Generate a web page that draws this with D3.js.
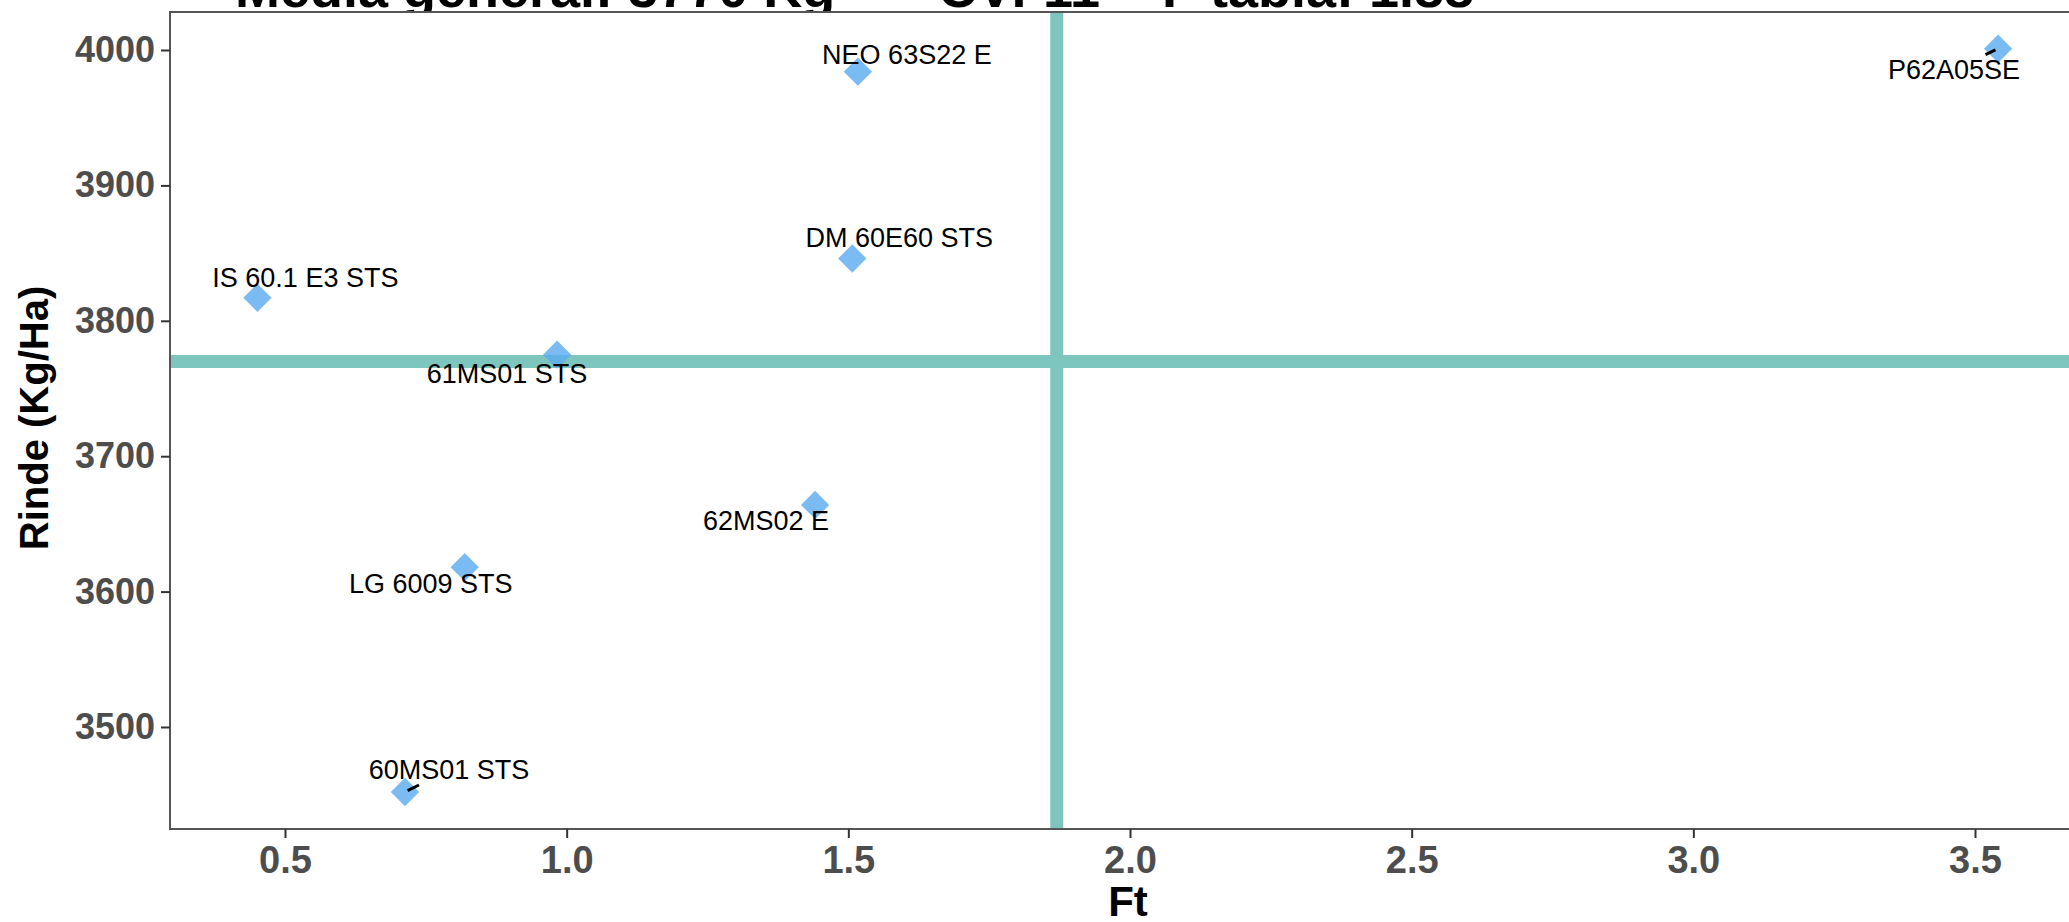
<!DOCTYPE html>
<html>
<head>
<meta charset="utf-8">
<script src="https://cdn.jsdelivr.net/npm/d3@7"></script>
<style>
  html, body { margin: 0; padding: 0; background: #ffffff; }
  svg { display: block; }
</style>
</head>
<body>
<svg id="chart" width="2069" height="922"></svg>
<script>
// ---- data ----
const categories = ["P62A05SE", "NEO 63S22 E", "DM 60E60 STS", "IS 60.1 E3 STS", "61MS01 STS", "62MS02 E", "LG 6009 STS", "60MS01 STS"];
const ftValues    = [3.541, 1.517, 1.507, 0.451, 0.983, 1.441, 0.819, 0.713];
const rindeValues = [4001, 3984, 3846, 3817, 3775, 3664, 3618, 3452];
const mediaGeneral = 3770;
const fTabla = 1.87;
const xTicks = [0.5, 1.0, 1.5, 2.0, 2.5, 3.0, 3.5];
const yTicks = [3500, 3600, 3700, 3800, 3900, 4000];
const titleParts = ["Media general: 3770 Kg", "-", "CV: 11", "-", "F tabla: 1.88"];

// ---- label layout (repel-style nudges, pixels) ----
const labelDx = [-44, 49, 47, 48, -50, -49, -34, 44];
const labelDy = [30, -8, -12, -11, 28, 25, 26, -13];
const labelSegment = [true, false, false, false, false, false, false, true];

// ---- layout ----
const W = 2069, H = 922;
const panel = { left: 170, top: 12, right: 2075, bottom: 829 };

const svg = d3.select("#chart");

const x = d3.scaleLinear().domain([0.5, 3.5]).range([285, 1975]);
const y = d3.scaleLinear().domain([3500, 4000]).range([727, 50]);

// title (mostly clipped at top, as in the reference)
const titleX = [235, 900, 938, 1122, 1162];
const title = svg.append("text")
  .attr("y", 7)
  .style("font-family", "'Liberation Sans', Arial, sans-serif")
  .style("font-weight", "bold")
  .style("font-size", "54px")
  .attr("fill", "#000");
titleParts.forEach((t, i) => {
  title.append("tspan").attr("x", titleX[i]).text(t);
});

// panel background
svg.append("rect")
  .attr("x", panel.left).attr("y", panel.top)
  .attr("width", panel.right - panel.left).attr("height", panel.bottom - panel.top)
  .attr("fill", "#ffffff");

svg.append("clipPath").attr("id", "pclip")
  .append("rect")
  .attr("x", panel.left).attr("y", panel.top)
  .attr("width", panel.right - panel.left).attr("height", panel.bottom - panel.top);

const plot = svg.append("g").attr("clip-path", "url(#pclip)");

// reference lines
const lineColor = "#7dc5bf";
plot.append("line")
  .attr("x1", panel.left).attr("x2", panel.right)
  .attr("y1", y(mediaGeneral)).attr("y2", y(mediaGeneral))
  .attr("stroke", lineColor).attr("stroke-width", 13);
plot.append("line")
  .attr("x1", x(fTabla)).attr("x2", x(fTabla))
  .attr("y1", panel.top).attr("y2", panel.bottom)
  .attr("stroke", lineColor).attr("stroke-width", 13);

const pts = categories.map((c, i) => ({
  name: c, ft: ftValues[i], rinde: rindeValues[i],
  dx: labelDx[i], dy: labelDy[i], seg: labelSegment[i]
}));

// points (diamonds)
const diamond = d3.symbol().type(d3.symbolSquare).size(400);
plot.selectAll("path.pt").data(pts).enter().append("path")
  .attr("class", "pt")
  .attr("d", diamond)
  .attr("transform", d => `translate(${x(d.ft)},${y(d.rinde)}) rotate(45)`)
  .attr("fill", "#5aaaf0")
  .attr("fill-opacity", 0.8);

// labels
const labels = plot.selectAll("text.lbl").data(pts).enter().append("text")
  .attr("class", "lbl")
  .attr("x", d => x(d.ft) + d.dx)
  .attr("y", d => y(d.rinde) + d.dy)
  .attr("text-anchor", "middle")
  .style("font-family", "'Liberation Sans', Arial, sans-serif")
  .style("font-size", "27px")
  .attr("fill", "#000")
  .text(d => d.name);

// segments from point toward label box
labels.each(function(d) {
  if (!d.seg) return;
  const bb = this.getBBox();
  const px = x(d.ft), py = y(d.rinde);
  const cx = bb.x + bb.width / 2, cy = bb.y + bb.height / 2;
  const vx = cx - px, vy = cy - py;
  const tx = vx !== 0 ? ((vx > 0 ? bb.x : bb.x + bb.width) - px) / vx : Infinity;
  const ty = vy !== 0 ? ((vy > 0 ? bb.y : bb.y + bb.height) - py) / vy : Infinity;
  let t = Math.max(Math.min(tx >= 0 ? tx : Infinity, ty >= 0 ? ty : Infinity), 0);
  if (!isFinite(t)) t = 0;
  const t0 = 0.06;
  plot.append("line")
    .attr("x1", px + vx * t0).attr("y1", py + vy * t0)
    .attr("x2", px + vx * t).attr("y2", py + vy * t)
    .attr("stroke", "#000").attr("stroke-width", 3);
});

// panel border
svg.append("rect")
  .attr("x", panel.left).attr("y", panel.top)
  .attr("width", panel.right - panel.left).attr("height", panel.bottom - panel.top)
  .attr("fill", "none").attr("stroke", "#555555").attr("stroke-width", 2);

// axes
const yAxis = d3.axisLeft(y).tickValues(yTicks).tickSize(9).tickPadding(6).tickFormat(d3.format("d"));
const gy = svg.append("g").attr("transform", `translate(${panel.left},0)`).call(yAxis);
gy.select(".domain").remove();
gy.selectAll(".tick line").attr("stroke", "#333333").attr("stroke-width", 2);
gy.selectAll(".tick text")
  .attr("fill", "#4d4d4d")
  .style("font-family", "'Liberation Sans', Arial, sans-serif")
  .style("font-weight", "bold")
  .style("font-size", "36px");

const xAxis = d3.axisBottom(x).tickValues(xTicks).tickSize(9).tickPadding(8).tickFormat(d3.format(".1f"));
const gx = svg.append("g").attr("transform", `translate(0,${panel.bottom})`).call(xAxis);
gx.select(".domain").remove();
gx.selectAll(".tick line").attr("stroke", "#333333").attr("stroke-width", 2);
gx.selectAll(".tick text")
  .attr("fill", "#4d4d4d")
  .style("font-family", "'Liberation Sans', Arial, sans-serif")
  .style("font-weight", "bold")
  .style("font-size", "38px");

// axis titles
svg.append("text")
  .attr("transform", "translate(48,418) rotate(-90)")
  .attr("text-anchor", "middle")
  .style("font-family", "'Liberation Sans', Arial, sans-serif")
  .style("font-weight", "bold")
  .style("font-size", "40px")
  .attr("fill", "#000")
  .text("Rinde (Kg/Ha)");

svg.append("text")
  .attr("x", 1128).attr("y", 916)
  .attr("text-anchor", "middle")
  .style("font-family", "'Liberation Sans', Arial, sans-serif")
  .style("font-weight", "bold")
  .style("font-size", "42px")
  .attr("fill", "#000")
  .text("Ft");
</script>
</body>
</html>
